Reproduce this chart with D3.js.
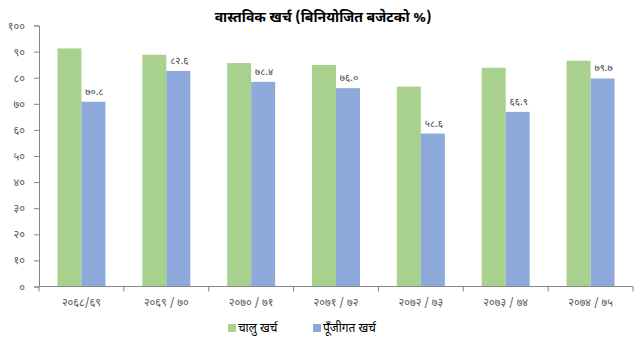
<!DOCTYPE html>
<meta charset="utf-8">
<script src="https://d3js.org/d3.v7.min.js"></script>
<style>
  body { margin: 0; background: #fff; }
  text { font-family: "Noto Sans Devanagari", "Lohit Devanagari", "Mangal", "Noto Sans", sans-serif; }
</style>
<div id="chart"></div>
<script>

// fiscal years and the two expenditure series (% of allocated budget)
var years = ["२०६८/६९", "२०६९ / ७०", "२०७० / ७१", "२०७१ / ७२", "२०७२ / ७३", "२०७३ / ७४", "२०७४ / ७५"];
var recurrent = [91.2, 88.8, 85.6, 84.9, 76.6, 83.8, 86.5];
var capital = [70.8, 82.6, 78.4, 76.0, 58.6, 66.9, 79.7];
var capitalLabels = ["७०.८", "८२.६", "७८.४", "७६.०", "५८.६", "६६.९", "७९.७"];
var seriesNames = ["चालु खर्च", "पूँजीगत खर्च"];
var yTicks = [0, 10, 20, 30, 40, 50, 60, 70, 80, 90, 100];

var colors = ["#a9d18e", "#8eaadb"];

// devanagari numerals for the axis
var devDigits = "०१२३४५६७८९";
function toDev(n) {
  return String(n).replace(/[0-9]/g, function(c) { return devDigits[+c]; });
}

var W = 640, H = 342;
var margin = {top: 25.5, right: 7, bottom: 55.5, left: 39},
    width = W - margin.left - margin.right,
    height = H - margin.top - margin.bottom;

var svg = d3.select("#chart")
  .append("svg")
    .attr("width", W)
    .attr("height", H)
  .append("g")
    .attr("transform", "translate(" + margin.left + "," + margin.top + ")");

var x = d3.scaleBand()
  .domain(years)
  .range([0, width])
  .paddingInner(0)
  .paddingOuter(0);

var barW = 24;

var y = d3.scaleLinear()
  .domain([0, 100])
  .range([height, 0]);

// Y axis
var yAxis = svg.append("g")
  .call(d3.axisLeft(y).tickValues(yTicks).tickSize(5).tickPadding(9).tickFormat(toDev));
yAxis.selectAll("line, path").attr("stroke", "#868686");
yAxis.selectAll("text").attr("fill", "#595959").style("font-size", "11px");

// bars
var rows = years.map(function(d, i) { return {year: d, vals: [recurrent[i], capital[i]], label: capitalLabels[i]}; });

var groups = svg.selectAll(".yr")
  .data(rows)
  .enter()
  .append("g")
    .attr("transform", function(d) { return "translate(" + (x(d.year) + x.bandwidth() / 2) + ",0)"; });

groups.selectAll("rect")
  .data(function(d) { return d.vals; })
  .enter()
  .append("rect")
    .attr("x", function(d, i) { return i === 0 ? -barW : 0; })
    .attr("y", function(d) { return y(d); })
    .attr("width", barW)
    .attr("height", function(d) { return height - y(d); })
    .attr("fill", function(d, i) { return colors[i]; });

// value labels above the capital bars
groups.append("text")
  .attr("x", barW / 2 + 1)
  .attr("y", function(d) { return y(d.vals[1]) - 7; })
  .attr("text-anchor", "middle")
  .style("font-size", "10px")
  .attr("fill", "#404040")
  .text(function(d) { return d.label; });

// X axis: baseline with ticks between categories
var xAxis = svg.append("g").attr("transform", "translate(0," + height + ")");
xAxis.append("line")
  .attr("x1", 0).attr("x2", width)
  .attr("stroke", "#868686");
xAxis.selectAll(".tk")
  .data(d3.range(years.length + 1))
  .enter()
  .append("line")
    .attr("x1", function(i) { return i * x.bandwidth(); })
    .attr("x2", function(i) { return i * x.bandwidth(); })
    .attr("y1", 0).attr("y2", 5)
    .attr("stroke", "#868686");
xAxis.selectAll(".lbl")
  .data(years)
  .enter()
  .append("text")
    .attr("x", function(d) { return x(d) + x.bandwidth() / 2; })
    .attr("y", 19)
    .attr("text-anchor", "middle")
    .attr("fill", "#595959")
    .style("font-size", "11px")
    .text(function(d) { return d; });

// title
d3.select("svg").append("text")
  .attr("x", 323)
  .attr("y", 22)
  .attr("text-anchor", "middle")
  .style("font-size", "14px")
  .style("font-weight", "bold")
  .attr("fill", "#000")
  .text("वास्तविक खर्च (बिनियोजित बजेटको %)");

// legend
var legend = d3.select("svg").append("g");
var legX = [228, 313];
seriesNames.forEach(function(name, i) {
  legend.append("rect")
    .attr("x", legX[i]).attr("y", 324)
    .attr("width", 8).attr("height", 8)
    .attr("fill", colors[i]);
  legend.append("text")
    .attr("x", legX[i] + 10).attr("y", 332)
    .style("font-size", "12px")
    .attr("fill", "#000")
    .text(name);
});

</script>
